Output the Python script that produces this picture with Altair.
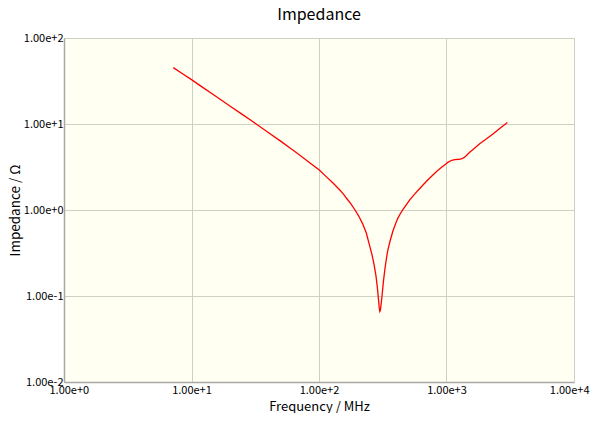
import altair as alt
import pandas as pd

freq_mhz = [7.2, 8.5, 10, 12, 15, 20, 25, 30, 40, 50, 60, 70, 85, 100, 115, 130,
            145, 155, 165, 178, 190, 205, 220, 235, 250, 260, 270, 280, 287, 293,
            297, 300, 303, 307, 312, 320, 328, 335, 345, 360, 380, 400, 415, 435,
            455, 480, 515, 560, 617, 654, 700, 760, 833, 900, 960, 1000, 1030,
            1060, 1100, 1160, 1250, 1310, 1360, 1420, 1520, 1650, 1820,
            2000, 2300, 2600, 3000]
impedance = [45.2, 38.4, 32.8, 27.2, 21.7, 16.2, 12.95, 10.75, 7.98, 6.32, 5.2, 4.39,
             3.52, 2.93, 2.41, 2.03, 1.72, 1.54, 1.36, 1.18, 1.02, 0.85, 0.69, 0.54,
             0.38, 0.305, 0.235, 0.17, 0.125, 0.09, 0.072, 0.066, 0.068, 0.08, 0.10,
             0.147, 0.20, 0.25, 0.33, 0.43, 0.57, 0.70, 0.80, 0.91, 1.01, 1.13, 1.31,
             1.52, 1.78, 1.95, 2.17, 2.45, 2.78, 3.07, 3.32, 3.48, 3.6, 3.69, 3.78,
             3.85, 3.89, 3.93, 4.03, 4.25, 4.7, 5.2, 5.9, 6.5, 7.6, 8.8, 10.4]

x_ticks = [1, 10, 100, 1000, 10000]
y_ticks = [0.01, 0.1, 1, 10, 100]

df = pd.DataFrame({"f": freq_mhz, "z": impedance})

FONT = "Noto Sans CJK JP"

chart = alt.Chart(df).mark_line(color="#ff0000", strokeWidth=1.3).encode(
    x=alt.X("f:Q",
            scale=alt.Scale(type="log", domain=[1, 10000], nice=False),
            axis=alt.Axis(values=x_ticks, format=".2e", title="Frequency / MHz",
                          ticks=False, labelPadding=2, labelFlush=True,
                          labelFlushOffset=15, labelOverlap=False,
                          titlePadding=5, titleFontSize=13)),
    y=alt.Y("z:Q",
            scale=alt.Scale(type="log", domain=[0.01, 100], nice=False),
            axis=alt.Axis(values=y_ticks, format=".2e", title="Impedance / Ω",
                          ticks=False, labelPadding=1, labelFlush=False,
                          labelOverlap=False, titlePadding=1, titleFontSize=13.5)),
).properties(
    width=510,
    height=344,
    title=alt.TitleParams("Impedance", fontSize=16, font=FONT, fontWeight="normal",
                          color="#000000", offset=9, anchor="middle"),
    autosize=alt.AutoSizeParams(type="none"),
    padding={"left": 56, "top": 30, "right": 16, "bottom": 31},
).configure_view(
    fill="#fffff2", stroke="#c8c8c0", strokeWidth=1
).configure_axis(
    labelFont=FONT, titleFont=FONT, labelFontSize=11,
    labelColor="#000000", titleColor="#000000", titleFontWeight="normal",
    gridColor="#cfcfc6", gridOpacity=1, domainColor="#a8a8a8", domainWidth=1.5,
)

chart.save("out.html", embed_options={"renderer": "svg", "actions": False})
